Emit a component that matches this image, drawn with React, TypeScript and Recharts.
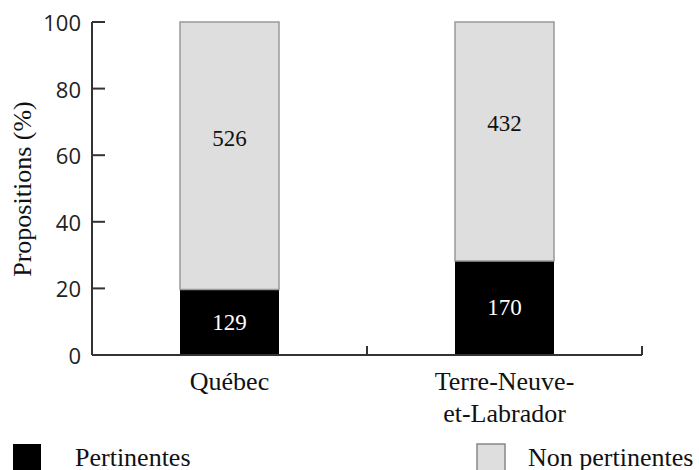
import { BarChart, Bar, XAxis, YAxis, Legend, LabelList } from 'recharts'

// counts per province
const categories = ['Québec', 'Terre-Neuve-et-Labrador']
const categoryLines = [['Québec'], ['Terre-Neuve-', 'et-Labrador']]
const pertinentes = [129, 170]
const nonPertinentes = [526, 432]
const yTicks = [0, 20, 40, 60, 80, 100]

const data = categories.map((name, i) => {
  const total = pertinentes[i] + nonPertinentes[i]
  return {
    name,
    pert: pertinentes[i],
    non: nonPertinentes[i],
    pertPct: (pertinentes[i] / total) * 100,
    nonPct: (nonPertinentes[i] / total) * 100,
  }
})

const W = 699
const H = 470
const M = { top: 22, right: 57, left: 0, bottom: 0 }
const Y_W = 92
const X_H = 115
const halfBand = (W - M.right - Y_W) / categories.length / 2

const serifStyle = { fontFamily: "'Liberation Serif', 'Times New Roman', Times, serif" }
const sansStyle = { fontFamily: "'Open Sans', sans-serif" }
const axisColor = '#333'

function YTick({ x, y, payload }: any) {
  return (
    <g>
      <line x1={x} x2={x + 13} y1={y} y2={y} stroke={axisColor} strokeWidth={2} />
      <text x={x - 11} y={y} textAnchor="end" dominantBaseline="central" style={sansStyle} fontSize={22} fill="#222">
        {payload.value}
      </text>
    </g>
  )
}

function XTick({ x, y, index }: any) {
  const lines = categoryLines[index] ?? []
  return (
    <g>
      <line x1={x + halfBand} x2={x + halfBand} y1={y - 9} y2={y} stroke={axisColor} strokeWidth={2} />
      {lines.map((l, i) => (
        <text key={i} x={x} y={y + 35 + i * 32} textAnchor="middle" style={serifStyle} fontSize={26} fill="#111">
          {l}
        </text>
      ))}
    </g>
  )
}

const barLabel = (color: string, dy: number) => (props: any) => {
  const { x, y, width, height, value } = props
  return (
    <text x={x + width / 2} y={y + height / 2 + dy} textAnchor="middle" dominantBaseline="central" style={serifStyle} fontSize={23} fill={color}>
      {value}
    </text>
  )
}

const legendPos: Record<string, { sq: number; tx: number; border: string }> = {
  Pertinentes: { sq: 13, tx: 75, border: 'none' },
  'Non pertinentes': { sq: 477, tx: 528, border: '#888' },
}

function LegendContent({ payload }: any) {
  return (
    <svg width={W} height={45} style={{ display: 'block' }}>
      {(payload ?? []).map((p: any) => {
        const pos = legendPos[p.value]
        if (!pos) return null
        return (
          <g key={p.value}>
            <rect x={pos.sq} y={14} width={28} height={28} fill={p.color} stroke={pos.border} strokeWidth={1.5} />
            <text x={pos.tx} y={36} style={serifStyle} fontSize={26} fill="#111">
              {p.value}
            </text>
          </g>
        )
      })}
    </svg>
  )
}

export default function App() {
  return (
    <div style={{ position: 'absolute', left: 0, top: 0, width: W, height: H, background: '#fff' }}>
      <BarChart width={W} height={H} data={data} margin={M}>
        <XAxis
          dataKey="name"
          height={X_H}
          axisLine={{ stroke: axisColor, strokeWidth: 2 }}
          tickLine={false}
          tickSize={0}
          tickMargin={0}
          tick={<XTick />}
          interval={0}
        />
        <YAxis
          width={Y_W}
          domain={[0, 100]}
          ticks={yTicks}
          axisLine={{ stroke: axisColor, strokeWidth: 2 }}
          tickLine={false}
          tickSize={0}
          tickMargin={0}
          tick={<YTick />}
          label={{
            content: () => (
              <text transform="translate(31,189) rotate(-90)" textAnchor="middle" style={serifStyle} fontSize={26} fill="#111">
                Propositions (%)
              </text>
            ),
          }}
        />
        <Legend
          layout="horizontal"
          verticalAlign="middle"
          align="center"
          wrapperStyle={{ position: 'absolute', top: 430, left: 0, width: W, height: 45 }}
          content={<LegendContent />}
        />
        <Bar dataKey="pertPct" name="Pertinentes" stackId="a" fill="#000" barSize={99} isAnimationActive={false}>
          <LabelList dataKey="pert" content={barLabel('#fff', 0)} />
        </Bar>
        <Bar dataKey="nonPct" name="Non pertinentes" stackId="a" fill="#dedede" stroke="#999" strokeWidth={1.5} barSize={99} isAnimationActive={false}>
          <LabelList dataKey="non" content={barLabel('#111', -17.5)} />
        </Bar>
      </BarChart>
    </div>
  )
}
